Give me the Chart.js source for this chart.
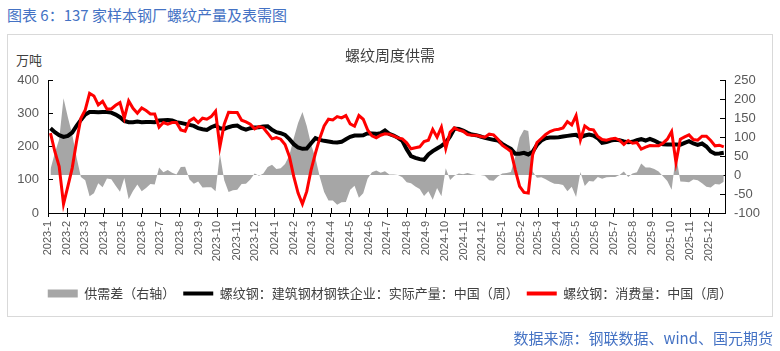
<!DOCTYPE html>
<html>
<head>
<meta charset="utf-8">
<script src="https://cdn.jsdelivr.net/npm/chart.js@4.4.1/dist/chart.umd.min.js"></script>
<style>
  body { margin: 0; background: #fff; }
  #wrap { position: relative; width: 780px; height: 351px; font-family: "Noto Sans CJK SC", sans-serif; }
  #title { position: absolute; left: 7px; top: 6px; font-size: 15px; line-height: 18px; color: #4472c4; }
  #box { position: absolute; left: 7px; top: 34px; width: 764px; height: 281px; border: 1px solid #d9d9d9; }
  #unit { position: absolute; left: 16px; top: 51px; font-size: 13px; line-height: 18px; color: #404040; }
  #source { position: absolute; right: 7px; top: 329px; font-size: 15px; line-height: 18px; color: #4472c4; }
  canvas { position: absolute; left: 0; top: 0; }
</style>
</head>
<body>
<div id="wrap">
  <div id="title">图表 6：137 家样本钢厂螺纹产量及表需图</div>
  <div id="box"></div>
  <div id="unit">万吨</div>
  <canvas id="chart" width="780" height="351"></canvas>
  <div id="source">数据来源：钢联数据、wind、国元期货</div>
</div>
<script>
// 周度数据, 第一周 2023-01-05, 每 7 天一期
const firstWeek = '2023-01-05';

// 螺纹钢: 建筑钢材钢铁企业: 实际产量 (万吨)
const production = [
  255, 243, 234, 229, 232, 242, 262, 280, 296, 304, 304, 303, 304,
  304, 302, 296, 288, 277, 273, 273, 275, 273, 274, 274, 273, 278,
  279, 280, 278, 273, 271, 268, 265, 262, 255, 252, 250, 258, 263,
  255, 253, 258, 262, 263, 255, 251, 255, 257, 258, 260, 261, 250,
  243, 240, 235, 222, 207, 197, 193, 194, 210, 225, 220, 217, 215,
  213, 212, 214, 222, 229, 233, 233, 234, 240, 239, 238, 240, 248,
  238, 233, 226, 217, 192, 171, 166, 162, 160, 176, 186, 194, 202,
  212, 230, 254, 253, 248, 241, 236, 234, 230, 226, 223, 220, 218,
  208, 200, 193, 178, 178, 181, 176, 184, 205, 218, 225, 227, 227,
  228, 230, 232, 234, 235, 228, 233, 236, 233, 225, 211, 213, 218,
  220, 219, 215, 213, 214, 219, 222, 218, 223, 218, 211, 207, 206,
  206, 206, 205, 211, 216, 209, 205, 209, 200, 185, 178, 179, 181
];

// 螺纹钢: 消费量 (万吨)
const consumption = [
  240, 185, 140, 27, 80, 135, 215, 285, 310, 360, 352, 325, 336,
  313, 313, 324, 332, 285, 337, 315, 300, 316, 308, 298, 298, 258,
  272, 267, 272, 272, 250, 246, 277, 285, 272, 285, 282, 290, 306,
  199, 267, 303, 302, 302, 279, 274, 267, 253, 260, 256, 240, 223,
  227, 222, 206, 170, 110, 60, 27, 65, 130, 180, 225, 262, 282,
  280, 290, 286, 293, 268, 261, 293, 282, 250, 232, 226, 234, 238,
  237, 232, 226, 223, 211, 193, 196, 199, 215, 219, 251, 228, 258,
  194, 243, 256, 249, 246, 236, 234, 234, 230, 228, 237, 235, 222,
  204, 195, 185, 130, 80, 62, 60, 175, 212, 224, 236, 245, 250,
  252, 256, 275, 265, 293, 220, 262, 252, 250, 230, 221, 219, 223,
  225, 219, 206, 218, 210, 212, 192, 198, 203, 202, 202, 210, 222,
  245, 152, 222, 229, 235, 221, 219, 231, 231, 218, 202, 204, 199
];

// 供需差 (右轴)
const gap = [
  15, 58, 94, 202, 152, 107, 47, -5, -14, -56, -48, -22, -32,
  -9, -11, -28, -44, -8, -64, -42, -25, -43, -34, -24, -25, 20,
  7, 13, 6, 1, 21, 22, -12, -23, -17, -33, -32, -32, -43,
  56, -14, -45, -40, -39, -24, -23, -12, 4, -2, 4, 21, 27,
  16, 18, 29, 52, 97, 137, 166, 129, 80, 45, -5, -45, -67,
  -67, -78, -72, -71, -39, -28, -60, -48, -10, 7, 12, 6, 10,
  1, 1, 0, -6, -19, -22, -30, -37, -55, -43, -65, -34, -56,
  18, -13, -2, 4, 2, 5, 2, 0, 0, -2, -14, -15, -4,
  4, 5, 8, 48, 98, 119, 116, 9, -7, -6, -11, -18, -23,
  -24, -26, -43, -31, -58, 8, -29, -16, -17, -5, -10, -6, -5,
  -5, 0, 9, -5, 4, 7, 30, 20, 20, 16, 9, -3, -16,
  -39, 54, -17, -18, -19, -12, -14, -22, -31, -33, -24, -25, -18
];

const monthLabels = [
  '2023-1', '2023-2', '2023-3', '2023-4', '2023-5', '2023-6', '2023-7', '2023-8', '2023-9', '2023-10', '2023-11', '2023-12',
  '2024-1', '2024-2', '2024-3', '2024-4', '2024-5', '2024-6', '2024-7', '2024-8', '2024-9', '2024-10', '2024-11', '2024-12',
  '2025-1', '2025-2', '2025-3', '2025-4', '2025-5', '2025-6', '2025-7', '2025-8', '2025-9', '2025-10', '2025-11', '2025-12'
];

// x 轴用距 2023-01-01 的天数
const DAY = 86400000;
const origin = Date.UTC(2023, 0, 1);
const monthDays = monthLabels.map(s => {
  const [y, m] = s.split('-').map(Number);
  return (Date.UTC(y, m - 1, 1) - origin) / DAY;
});
const [fy, fm, fd] = firstWeek.split('-').map(Number);
const firstDay = (Date.UTC(fy, fm - 1, fd) - origin) / DAY;
const weekDays = production.map((_, i) => firstDay + 7 * i);

const toPoints = arr => arr.map((v, i) => ({ x: weekDays[i], y: v }));

const numFont = { family: '"Liberation Sans", Arial, sans-serif', size: 13 };

// x 轴刻度线向图内的短线
const innerTicks = {
  id: 'innerTicks',
  afterDatasetsDraw(chart) {
    const { ctx, chartArea, scales: { x } } = chart;
    ctx.save();
    ctx.strokeStyle = '#000';
    ctx.lineWidth = 1;
    x.ticks.forEach(t => {
      const px = Math.round(x.getPixelForValue(t.value)) + 0.5;
      ctx.beginPath();
      ctx.moveTo(px, chartArea.bottom);
      ctx.lineTo(px, chartArea.bottom - 5);
      ctx.stroke();
    });
    ctx.restore();
  }
};

Chart.defaults.font.family = '"Noto Sans CJK SC", sans-serif';

new Chart(document.getElementById('chart').getContext('2d'), {
  type: 'line',
  data: {
    datasets: [
      {
        label: '供需差（右轴）',
        data: toPoints(gap),
        yAxisID: 'y1',
        fill: 'origin',
        backgroundColor: '#a6a6a6',
        borderColor: '#a6a6a6',
        borderWidth: 0,
        pointRadius: 0,
        order: 3
      },
      {
        label: '螺纹钢：建筑钢材钢铁企业：实际产量：中国（周）',
        data: toPoints(production),
        yAxisID: 'y',
        borderColor: '#000000',
        borderWidth: 4,
        pointRadius: 0,
        fill: false,
        order: 2
      },
      {
        label: '螺纹钢：消费量：中国（周）',
        data: toPoints(consumption),
        yAxisID: 'y',
        borderColor: '#ff0000',
        borderWidth: 3,
        pointRadius: 0,
        fill: false,
        order: 1
      }
    ]
  },
  options: {
    responsive: false,
    animation: false,
    devicePixelRatio: 1,
    layout: { padding: { left: 0, right: 0, top: 0, bottom: 41 } },
    plugins: {
      title: {
        display: true,
        text: '螺纹周度供需',
        color: '#404040',
        font: { size: 15, weight: 'normal' },
        padding: { top: 46, bottom: 16 }
      },
      legend: {
        position: 'bottom',
        labels: {
          usePointStyle: true,
          pointStyleWidth: 30,
          boxHeight: 8,
          padding: 8,
          color: '#404040',
          font: { size: 13 },
          generateLabels: chart => chart.data.datasets.map((ds, i) => ({
            text: ds.label,
            datasetIndex: i,
            pointStyle: i === 0 ? 'rect' : 'line',
            fillStyle: ds.borderColor,
            strokeStyle: ds.borderColor,
            lineWidth: i === 0 ? 0 : 4,
            fontColor: '#404040',
            hidden: false
          }))
        }
      },
      tooltip: { enabled: false }
    },
    scales: {
      x: {
        type: 'linear',
        min: 0,
        max: 1091,
        afterBuildTicks: s => { s.ticks = monthDays.map(v => ({ value: v })); },
        afterFit: s => { s.height = 66; },
        ticks: {
          autoSkip: false,
          minRotation: 90,
          maxRotation: 90,
          padding: 4,
          color: '#595959',
          font: { family: numFont.family, size: 11 },
          callback: (v, idx) => monthLabels[idx]
        },
        grid: { drawOnChartArea: false, drawTicks: true, tickLength: 4, color: '#000' },
        border: { color: '#000', width: 1 }
      },
      y: {
        position: 'left',
        min: 0,
        max: 400,
        afterFit: s => { s.width = 48; },
        ticks: { stepSize: 100, autoSkip: false, padding: 14, color: '#595959', font: numFont },
        grid: { drawOnChartArea: false, tickLength: -5, color: '#000' },
        border: { color: '#000', width: 1 }
      },
      y1: {
        position: 'right',
        min: -100,
        max: 250,
        afterFit: s => { s.width = 55; },
        ticks: { stepSize: 50, autoSkip: false, padding: 14, color: '#595959', font: numFont },
        grid: { drawOnChartArea: false, tickLength: -5, color: '#000' },
        border: { color: '#000', width: 1 }
      }
    }
  },
  plugins: [innerTicks]
});
</script>
</body>
</html>
